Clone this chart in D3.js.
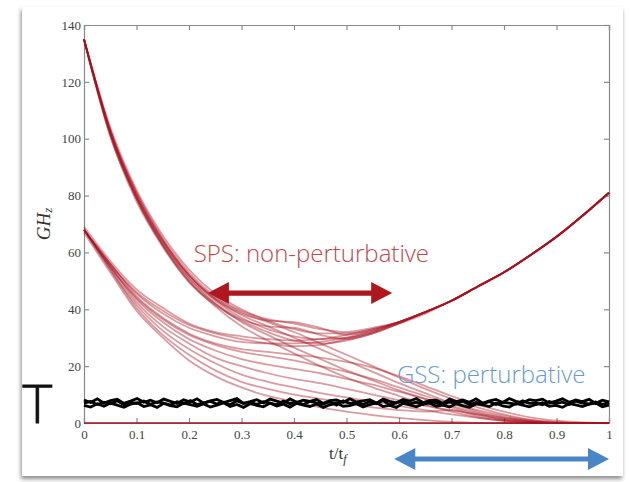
<!DOCTYPE html>
<html>
<head>
<meta charset="utf-8">
<script src="https://cdnjs.cloudflare.com/ajax/libs/d3/7.8.5/d3.min.js"></script>
<style>
  body { margin: 0; background: #fff; }
  svg { display: block; }
  .axis path, .axis line { stroke: #8a8a8a; stroke-width: 1.2; }
  .axis text { font-family: "Liberation Serif", serif; font-size: 13px; fill: #444; }
</style>
</head>
<body>
<div id="chart"></div>
<script>
// time grid for the red curves (t / t_f)
const tPoints = [0,0.05,0.1,0.15,0.2,0.25,0.3,0.35,0.4,0.45,0.5,0.55,0.6,0.65,0.7,0.75,0.8,0.85,0.9,0.95,1];

// upper family (start ~135 GHz), ending on the rising branch
const up1 = [135,104,82,66,54,45.5,40,36,33,31.5,31.5,33,35.5,39,43,48,53,59,65.5,73,81];
const up2 = [135,103,81,65,53,44.5,39.5,36.5,35,33,32,33.5,35.5,39,43,48,53,59,65.5,73,81];
const up3 = [135,103,80,64,52,43.5,38.5,36,35.5,33.5,31,32.5,35.5,39,43,48,53,59,65.5,73,81];
const up4 = [135,102,79,63,51,43,37,33,30.5,29.5,30,32,35.5,39,43,48,53,59,65.5,73,81];
const up5 = [135,102,79,62.5,50,42,36.5,34,33.5,31,29.5,31.5,35,39,43,48,53,59,65.5,73,81];
const up6 = [135,101,78,62,49.5,41.5,36,32,29,28,29,31.5,35,38.5,43,48,53,59,65.5,73,81];
// upper family, falling to zero
const down1 = [135,102,80,63.5,51,42,35.5,31,26.5,22.5,18.5,15,11.5,8.5,5.5,3,1.2,0.3,0,0,0];
const down2 = [135,103,81,64.5,52,43.5,38,34,30,26,22,18,14,10.5,7,4,2,0.7,0,0,0];
const down3 = [135,101,79,62.5,50,41,34,29,24.5,20,16,12.5,9.5,6.5,4,2,0.7,0,0,0,0];
const down4 = [135,102,80,64,52,44,39,35.5,32,28,24,20,16,12,8.5,5.5,3,1.2,0.3,0,0];

// lower family (start ~68 GHz)
const low1 = [69,57,47,40.5,35,32,30.5,29.5,29,29.5,31,33,35.5,39,43,48,53,59,65.5,73,81];
const low2 = [68,56,45.5,38.5,33.5,30.5,28.5,28,28,28.5,30,32.5,35.5,39,43,48,53,59,65.5,73,81];
const low3 = [68,56,46,39.5,34.5,31.5,29.5,28,27,27.5,29.5,32,35,39,43,48,53,59,65.5,73,81];
const low4 = [68,55,44,36.5,31,27.5,25,23.5,22,20,18,15.5,12.5,9.5,7,4.5,2.5,1,0.3,0,0];
const low5 = [68,56,44.5,37,31.5,28,26,25,24,23,21.5,19.5,16.5,13,9.5,6.5,4,2,0.8,0.2,0];
const low6 = [68,55,43.5,35.5,29.5,25.5,22.5,20.5,19,17.5,15.5,13.5,11,8.5,6,3.5,1.8,0.6,0,0,0];
const low7 = [68,55,42.5,34,28,23,20,17.5,15.5,14,12,10,8,6,4.5,3,1.5,0.5,0,0,0];
const low8 = [68,54,41.5,32.5,26,21,17,14.5,12.5,10.5,9,7.5,6,4.5,3,1.8,0.8,0.2,0,0,0];
const low9 = [68,54,40.5,31,24,18.5,14.5,12,10,8.5,7,5.5,4.5,4,4.5,2.5,1,0.3,0,0,0];
const low10 = [67,53,39.5,30,22,16.5,12.5,9.5,7.5,5.5,4,2.8,1.8,1,0.4,0,0,0,0,0,0];
const zeroLine = [0,0,0,0,0,0,0,0,0,0,0,0,0,0,0,0,0,0,0,0,0];

const redSeries = [up1,up2,up3,up4,up5,up6,down1,down2,down3,down4,
                   low1,low2,low3,low4,low5,low6,low7,low8,low9,low10];

// black noisy band (temperature scale, ~5-9 GHz)
const noiseA = [8.1,7.2,8.5,7.0,7.9,8.4,6.9,7.7,8.6,7.3,8.0,7.1,8.4,7.6,6.9,8.2,7.4,8.5,7.0,7.8,
  8.3,7.2,7.9,8.6,6.9,7.5,8.2,7.1,8.4,7.7,7.0,8.5,7.3,8.0,7.6,8.3,6.9,7.9,8.1,7.2,
  8.5,7.4,7.8,8.2,7.0,8.4,7.6,7.1,8.3,7.7,8.6,7.2,7.9,8.0,6.9,8.4,7.5,8.1,7.3,8.5,
  7.0,7.8,8.3,7.2,8.6,7.6,7.1,8.2,7.9,8.4,7.0,7.7,8.5,7.3,8.1,7.5,8.3,6.9,8.0,7.4];
const noiseB = [6.2,5.6,6.8,5.9,7.0,6.3,5.5,6.6,7.1,5.8,6.4,5.5,6.9,6.1,5.7,7.0,6.5,5.9,6.7,5.6,
  6.3,7.1,5.8,6.5,5.5,6.8,6.2,5.7,7.0,6.0,6.6,5.6,6.9,6.3,5.8,6.7,5.5,6.4,7.0,5.9,
  6.1,6.8,5.6,6.5,7.1,5.8,6.2,5.5,6.9,6.4,5.7,6.6,7.0,5.9,6.3,5.6,6.8,6.1,5.5,6.7,
  6.4,5.8,7.0,6.0,5.6,6.9,6.3,5.7,6.5,7.1,5.9,6.2,5.5,6.8,6.4,5.8,6.6,7.0,5.7,6.3];
const noiseC = [7.0,7.6,6.5,7.3,6.8,7.8,6.4,7.2,6.9,7.7,6.6,7.4,7.0,6.3,7.5,6.8,7.9,6.5,7.1,7.6,
  6.7,7.3,6.4,7.8,6.9,7.2,6.6,7.5,7.0,6.4,7.7,6.8,7.3,6.5,7.6,7.1,6.7,7.4,6.3,7.8,
  6.9,7.2,6.6,7.5,6.8,7.9,6.4,7.1,7.6,6.7,7.3,6.5,7.8,7.0,6.6,7.4,6.9,7.7,6.4,7.2,
  6.8,7.5,6.5,7.3,7.0,6.6,7.8,6.9,7.1,6.4,7.6,6.8,7.3,6.5,7.7,7.0,6.7,7.4,6.6,7.2];
const noiseSeries = [noiseA, noiseB, noiseC];

const xTicks = [0,0.1,0.2,0.3,0.4,0.5,0.6,0.7,0.8,0.9,1];
const yTicks = [0,20,40,60,80,100,120,140];

let W = 631, H = 482;
let margin = {left: 84, right: 25, top: 25, bottom: 59};

const svg = d3.select("#chart").append("svg")
  .attr("width", W)
  .attr("height", H);

// card with soft shadow
const defs = svg.append("defs");
const f = defs.append("filter").attr("id","shadow")
  .attr("x","-5%").attr("y","-5%").attr("width","110%").attr("height","112%");
f.append("feDropShadow").attr("dx",-1).attr("dy",3).attr("stdDeviation",2.2)
  .attr("flood-color","#000").attr("flood-opacity",0.45);

svg.append("rect")
  .attr("x",22).attr("y",7).attr("width",601).attr("height",469)
  .attr("fill","#fff")
  .attr("filter","url(#shadow)");

const x = d3.scaleLinear().domain([0,1]).range([margin.left, W - margin.right + 3]);
const y = d3.scaleLinear().domain([0,140]).range([H - margin.bottom, margin.top]);

// axes box (ticks pointing inward like matlab)
svg.append("g").attr("class","axis")
  .attr("transform",`translate(0,${y(0)})`)
  .call(d3.axisBottom(x).tickValues(xTicks).tickSize(-5).tickPadding(7).tickFormat(d => String(d)));
svg.append("g").attr("class","axis")
  .attr("transform",`translate(0,${y(140)})`)
  .call(d3.axisTop(x).tickValues(xTicks).tickSize(-5).tickFormat(""));
svg.append("g").attr("class","axis")
  .attr("transform",`translate(${x(0)},0)`)
  .call(d3.axisLeft(y).tickValues(yTicks).tickSize(-5).tickPadding(3));
svg.append("g").attr("class","axis")
  .attr("transform",`translate(${x(1)},0)`)
  .call(d3.axisRight(y).tickValues(yTicks).tickSize(-5).tickFormat(""));

const line = d3.line()
  .x((d,i) => x(tPoints[i]))
  .y(d => y(d))
  .curve(d3.curveMonotoneX);

const curves = svg.append("g");
curves.selectAll("path")
  .data(redSeries)
  .enter()
  .append("path")
  .attr("d", line)
  .attr("fill","none")
  .attr("stroke","#a8101e")
  .attr("stroke-opacity",0.42)
  .attr("stroke-width",1.8);

curves.append("path")
  .datum(zeroLine)
  .attr("d", line)
  .attr("fill","none")
  .attr("stroke","#a8101e")
  .attr("stroke-width",1.6);

const noiseLine = d3.line()
  .x((d,i,arr) => x(i/(arr.length-1)))
  .y(d => y(d));

svg.append("g").selectAll("path")
  .data(noiseSeries)
  .enter()
  .append("path")
  .attr("d", noiseLine)
  .attr("fill","none")
  .attr("stroke","#000")
  .attr("stroke-width",2.8);

// double-headed arrows
function arrow(x1, x2, yy, color){
  let head = 21, half = 11, shaft = 2.6;
  let p = [
    [x1, yy], [x1+head, yy-half], [x1+head, yy-shaft], [x2-head, yy-shaft],
    [x2-head, yy-half], [x2, yy], [x2-head, yy+half], [x2-head, yy+shaft],
    [x1+head, yy+shaft], [x1+head, yy+half]
  ];
  svg.append("path")
    .attr("d", d3.line()(p) + "Z")
    .attr("fill", color);
}
arrow(x(0.236), x(0.587), y(45.7), "#b0161e");
arrow(x(0.591), x(1.0), 459, "#4a86c6");

svg.append("text")
  .attr("x", x(0.209)).attr("y", y(56.6))
  .attr("font-family","'Open Sans', sans-serif")
  .attr("font-weight",300)
  .attr("font-size",24)
  .attr("fill","#c4464d")
  .text("SPS: non-perturbative");

svg.append("text")
  .attr("x", x(0.596)).attr("y", y(14))
  .attr("font-family","'Open Sans', sans-serif")
  .attr("font-weight",300)
  .attr("font-size",24)
  .attr("fill","#6a9ad0")
  .text("GSS: perturbative");

// axis labels
const yl = svg.append("text")
  .attr("transform","translate(50,224) rotate(-90)")
  .attr("text-anchor","middle")
  .attr("font-family","'Liberation Serif', serif")
  .attr("font-style","italic")
  .attr("font-size",19)
  .attr("fill","#333");
yl.append("tspan").text("GH");
yl.append("tspan").attr("font-size",13).attr("dy",2).text("z");

const xl = svg.append("text")
  .attr("x",329).attr("y",459)
  .attr("font-family","'Liberation Serif', serif")
  .attr("font-size",17)
  .attr("fill","#333");
xl.append("tspan").text("t/t");
xl.append("tspan").attr("font-size",12).attr("font-style","italic").attr("dy",4).text("f");

// temperature marker
svg.append("text")
  .attr("x",22).attr("y",y(0))
  .attr("font-family","Lato, 'Open Sans', sans-serif")
  .attr("font-weight",300)
  .attr("font-size",53)
  .attr("fill","#111")
  .attr("stroke","#111")
  .attr("stroke-width",0.8)
  .text("T");
</script>
</body>
</html>
